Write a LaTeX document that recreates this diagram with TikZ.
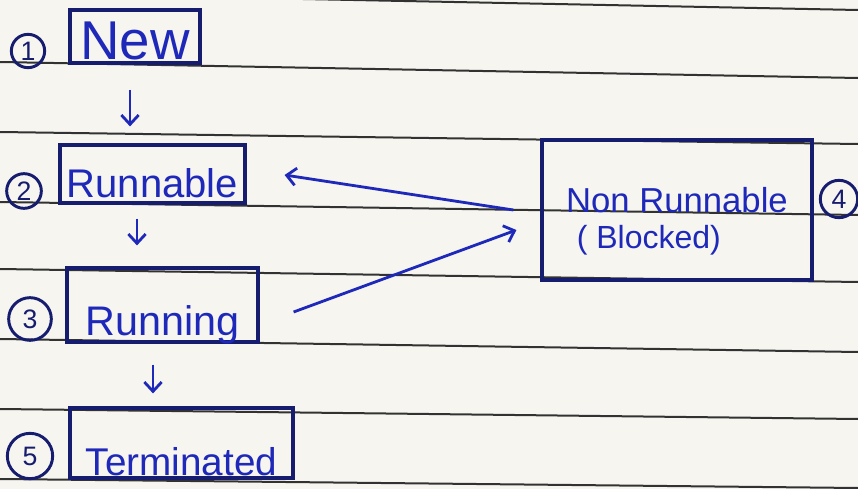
\documentclass[tikz,border=0pt]{standalone}
\usepackage{fontspec}
\setmainfont{Liberation Sans}
\usetikzlibrary{calc,arrows.meta}

\definecolor{paper}{RGB}{246,245,240}
\definecolor{rule}{RGB}{50,50,50}
\definecolor{ink}{RGB}{30,40,185}
\definecolor{navy}{RGB}{22,28,110}

\tikzstyle{statebox} = [draw=navy,line width=2.4pt,text=ink,inner sep=0pt,text depth=0pt]
\tikzstyle{num} = [circle,draw=navy,line width=2.2pt,text=navy,inner sep=0pt,font=\fontsize{20}{20}\selectfont]
\tikzstyle{flow} = [-{Straight Barb[length=7pt,width=13pt]},draw=ink,line width=2.1pt]

\begin{document}
\begin{tikzpicture}[x=0.75pt,y=-0.75pt]
	\fill[paper] (0,0) rectangle (858,489);
	\useasboundingbox (0,0) rectangle (858,489);
	
	% lines of the paper
	\draw[rule,line width=1.5pt] (0,-7) -- (858,10);
	\foreach \l/\r in {62/78,132/144,202/215,269/282,339/352,409/419,479/488}
		\draw[rule,line width=1.5pt] (0,\l) -- (858,\r);
	
	\node[statebox,minimum width=97.5pt,minimum height=39.75pt,text height=35pt,font=\fontsize{41}{41}\selectfont] (new) at (135,36.5) {New};
	\node[statebox,minimum width=138.75pt,minimum height=43.5pt,text height=34.5pt,font=\fontsize{30}{30}\selectfont] (runnable) at (152.5,174) {Runnable};
	\node[statebox,minimum width=143.25pt,minimum height=55.5pt,text height=45pt,font=\fontsize{31}{31}\selectfont] (running) at (162.5,305) {Running};
	\node[statebox,minimum width=167.25pt,minimum height=52.5pt,text height=48pt,font=\fontsize{29}{29}\selectfont] (terminated) at (181.5,443) {Terminated};
	\node[statebox,minimum width=202.5pt,minimum height=105pt,text depth=,align=left,font=\fontsize{26}{27}\selectfont] (blocked) at (677,210) {\rule{0pt}{36pt}Non Runnable\\{\fontsize{24}{27}\selectfont\hspace{8pt}( Blocked)}};
	
	\node[num,minimum size=25pt] (c1) at (28,51) {1};
	\node[num,minimum size=26pt] (c2) at (24,191) {2};
	\node[num,minimum size=32pt] (c3) at (30,319) {3};
	\node[num,minimum size=28pt] (c4) at (839,199) {4};
	\node[num,minimum size=34pt] (c5) at (30,456) {5};
	
	\draw[flow] ($(new.south)+(-5,25)$) -- ($(runnable.north)+(-22.5,-17)$);
	\draw[flow] ($(runnable.south)+(-15.5,14)$) -- ($(running.north)+(-25.5,-21)$);
	\draw[flow] ($(running.south)+(-9.5,21)$) -- ($(terminated.north)+(-28.5,-13)$);
	\draw[flow] ($(blocked.west)+(-27,0)$) -- ($(runnable.east)+(38,1)$);
	\draw[flow] ($(running.east)+(34,7)$) -- ($(blocked.west)+(-24,20)$);
\end{tikzpicture}
\end{document}
